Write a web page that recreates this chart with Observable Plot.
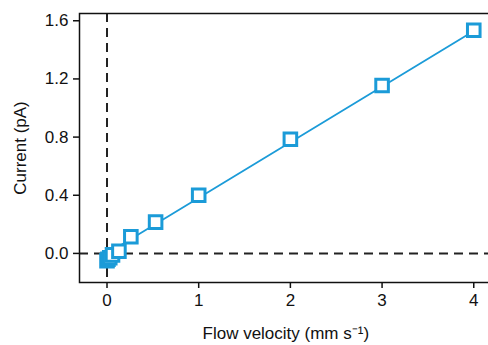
<!DOCTYPE html>
<html>
<head>
<meta charset="utf-8">
<script src="https://cdn.jsdelivr.net/npm/d3@7"></script>
<script src="https://cdn.jsdelivr.net/npm/@observablehq/plot@0.6"></script>
<style>
html, body { margin: 0; padding: 0; background: #fff; overflow: hidden; }
#chart { width: 488px; height: 345px; overflow: hidden; }
#chart svg { max-width: none !important; }
#chart svg text { font-size: 17px !important; font-family: 'Liberation Sans', Arial, sans-serif !important; fill: #111; }
</style>
</head>
<body>
<div id="chart"></div>
<script>
// Measured data (flow velocity in mm/s, current in pA)
const velocity = [0, 0.01, 0.03, 0.06, 0.13, 0.26, 0.53, 1, 2, 3, 4];
const current = [-0.05, -0.04, -0.03, -0.01, 0.015, 0.115, 0.215, 0.40, 0.785, 1.155, 1.535];
// Linear fit line endpoints
const fitVelocity = [0, 4];
const fitCurrent = [0.0, 1.53];
const xTicks = [0, 1, 2, 3, 4];
const yTicks = [0.0, 0.4, 0.8, 1.2, 1.6];

const points = velocity.map((v, i) => ({v, c: current[i]}));
const fit = fitVelocity.map((v, i) => ({v, c: fitCurrent[i]}));
const blue = "#1b9bd8";
const font = "'Liberation Sans', Arial, sans-serif";

const chart = Plot.plot({
  width: 500,
  height: 345,
  marginLeft: 79,
  marginTop: 13,
  marginBottom: 63,
  marginRight: 8.4,
  style: {fontFamily: font, fontSize: "17px", color: "#111", background: "#fff", maxWidth: "none"},
  x: {domain: [-0.3, 4.2]},
  y: {domain: [-0.2, 1.65]},
  marks: [
    Plot.ruleX([0], {stroke: "#222", strokeWidth: 2, strokeDasharray: "9,6"}),
    Plot.ruleY([0], {stroke: "#222", strokeWidth: 2, strokeDasharray: "9,6"}),
    Plot.line(fit, {x: "v", y: "c", stroke: blue, strokeWidth: 1.8}),
    Plot.dot(points, {x: "v", y: "c", symbol: "square", r: 7.1, stroke: blue, strokeWidth: 3, fill: "white"}),
    Plot.frame({stroke: "#111", strokeWidth: 1.5}),
    Plot.axisX({ticks: xTicks, tickSize: 6, tickPadding: 5, tickFormat: d3.format("d"), label: "Flow velocity (mm s\u207B\u00B9)", labelAnchor: "center", labelArrow: "none", labelOffset: 56, strokeWidth: 1.5}),
    Plot.axisY({ticks: yTicks, tickSize: 6, tickPadding: 5, tickFormat: d3.format(".1f"), label: "Current (pA)", labelAnchor: "center", labelArrow: "none", labelOffset: 66, strokeWidth: 1.5})
  ]
});
document.getElementById("chart").appendChild(chart);
</script>
</body>
</html>
